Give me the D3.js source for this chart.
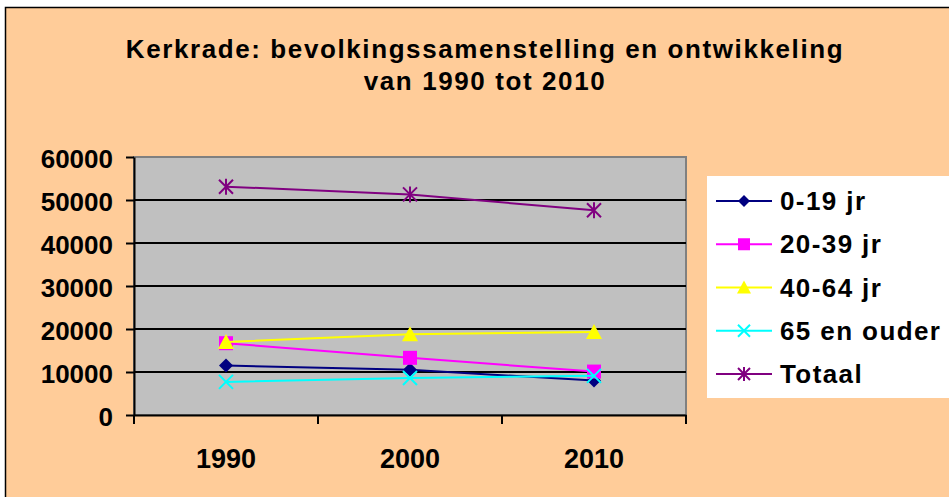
<!DOCTYPE html>
<html>
<head>
<meta charset="utf-8">
<title>Kerkrade bevolking</title>
<script src="https://cdn.jsdelivr.net/npm/d3@7"></script>
<style>
  body { margin: 0; background: #fff; }
  text { font-family: "Liberation Sans", Arial, sans-serif; font-weight: bold; }
</style>
</head>
<body>
<script>
// data
var years = ["1990", "2000", "2010"];
var seriesNames = ["0-19 jr", "20-39 jr", "40-64 jr", "65 en ouder", "Totaal"];
var jr0_19   = [11500, 10500, 8000];
var jr20_39  = [16700, 13300, 10100];
var jr40_64  = [17000, 18800, 19300];
var ouder65  = [7700, 8600, 9100];
var totaal   = [53100, 51300, 47600];
var yTicks = [0, 10000, 20000, 30000, 40000, 50000, 60000];

var colors  = ["#000080", "#ff00ff", "#ffff00", "#00ffff", "#800080"];
var symbols = ["diamond", "square", "triangle", "x", "star"];
var allValues = [jr0_19, jr20_39, jr40_64, ouder65, totaal];

var W = 949, H = 497;
var plot = {left: 134, right: 686, top: 157, bottom: 415};

var svg = d3.select("body").append("svg")
  .attr("width", W).attr("height", H);

// chart area
svg.append("rect").attr("x", 0).attr("y", 0).attr("width", W).attr("height", H).attr("fill", "#ffffff");
svg.append("rect").attr("x", 5.5).attr("y", 7.5).attr("width", W).attr("height", H)
  .attr("fill", "#ffcc99").attr("stroke", "#000").attr("stroke-width", 1.5);

// title
var title = svg.append("text").attr("text-anchor", "middle").attr("font-size", 26)
  .attr("letter-spacing", 1.6);
title.append("tspan").attr("x", 485).attr("y", 58).text("Kerkrade: bevolkingssamenstelling en ontwikkeling");
title.append("tspan").attr("x", 485).attr("y", 90).text("van 1990 tot 2010");

var x = d3.scaleBand().domain(years).range([plot.left, plot.right]);
var y = d3.scaleLinear().domain([0, 60000]).range([plot.bottom, plot.top]);

// plot background
svg.append("rect")
  .attr("x", plot.left).attr("y", plot.top)
  .attr("width", plot.right - plot.left).attr("height", plot.bottom - plot.top)
  .attr("fill", "#c0c0c0").attr("stroke", "#808080").attr("stroke-width", 2);

// gridlines
svg.append("g").selectAll("line").data(yTicks.filter(function(d){ return d > 0 && d < 60000; }))
  .join("line")
  .attr("x1", plot.left).attr("x2", plot.right)
  .attr("y1", function(d){ return y(d); }).attr("y2", function(d){ return y(d); })
  .attr("stroke", "#000").attr("stroke-width", 2);

// y axis
var yAxis = svg.append("g")
  .attr("transform", "translate(" + plot.left + ",0)")
  .call(d3.axisLeft(y).tickValues(yTicks).tickFormat(d3.format("d")).tickSizeInner(8).tickSizeOuter(0).tickPadding(13));
yAxis.select(".domain").attr("stroke-width", 2);
yAxis.selectAll(".tick line").attr("stroke-width", 2);
yAxis.selectAll("text").attr("font-size", 26).attr("dy", "0.4em").attr("fill", "#000").attr("font-family", null);

// x axis
var xAxis = svg.append("g")
  .attr("transform", "translate(0," + plot.bottom + ")")
  .call(d3.axisBottom(x).tickSize(0));
xAxis.select(".domain").attr("stroke-width", 2);
xAxis.selectAll("text").attr("font-size", 27).attr("y", 53).attr("dy", 0)
  .attr("fill", "#000").attr("font-family", null);
// category separators
xAxis.append("g").selectAll("line")
  .data(years.map(function(d){ return x(d); }).concat([plot.right]))
  .join("line")
  .attr("x1", function(d){ return d; }).attr("x2", function(d){ return d; })
  .attr("y1", 0).attr("y2", 9)
  .attr("stroke", "#000").attr("stroke-width", 2);

var cx = function(i){ return x(years[i]) + x.bandwidth() / 2; };

function drawMarker(g, kind, color, r) {
  if (kind === "diamond") {
    g.append("path").attr("d", "M0," + (-r) + "L" + r + ",0L0," + r + "L" + (-r) + ",0Z").attr("fill", color);
  } else if (kind === "square") {
    g.append("rect").attr("x", -r).attr("y", -r).attr("width", 2 * r).attr("height", 2 * r).attr("fill", color);
  } else if (kind === "triangle") {
    g.append("path").attr("d", "M0," + (-r - 1) + "L" + (r + 1) + "," + r + "L" + (-r - 1) + "," + r + "Z").attr("fill", color);
  } else if (kind === "x") {
    g.append("path").attr("d", "M" + (-r) + "," + (-r) + "L" + r + "," + r + "M" + (-r) + "," + r + "L" + r + "," + (-r))
      .attr("stroke", color).attr("stroke-width", 2);
  } else {
    g.append("path").attr("d", "M" + (-r) + "," + (-r) + "L" + r + "," + r + "M" + (-r) + "," + r + "L" + r + "," + (-r) +
      "M0," + (-r - 1) + "L0," + (r + 1))
      .attr("stroke", color).attr("stroke-width", 2);
  }
}

var line = d3.line().x(function(d, i){ return cx(i); }).y(function(d){ return y(d); });

allValues.forEach(function(vals, s) {
  var g = svg.append("g");
  g.append("path").datum(vals).attr("d", line)
    .attr("fill", "none").attr("stroke", colors[s]).attr("stroke-width", 2);
  vals.forEach(function(v, i) {
    drawMarker(g.append("g").attr("transform", "translate(" + cx(i) + "," + y(v) + ")"), symbols[s], colors[s], 7);
  });
});

// legend
var legend = svg.append("g");
legend.append("rect").attr("x", 707).attr("y", 176).attr("width", 260).attr("height", 222)
  .attr("fill", "#fff");
var ly = d3.scalePoint().domain(seriesNames).range([201, 374]);
seriesNames.forEach(function(name, s) {
  var g = legend.append("g").attr("transform", "translate(0," + ly(name) + ")");
  g.append("line").attr("x1", 716).attr("x2", 772).attr("y1", 0).attr("y2", 0)
    .attr("stroke", colors[s]).attr("stroke-width", 2);
  drawMarker(g.append("g").attr("transform", "translate(744,0)"), symbols[s], colors[s], 6);
  g.append("text").attr("x", 780).attr("y", 9).attr("font-size", 26).attr("letter-spacing", 1.4).text(name);
});
</script>
</body>
</html>
